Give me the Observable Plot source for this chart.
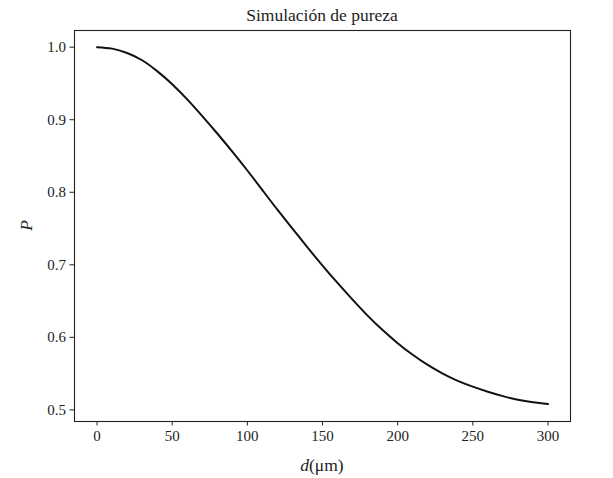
<!DOCTYPE html>
<html>
<head>
<meta charset="utf-8">
<script src="https://cdn.jsdelivr.net/npm/d3@7"></script>
<script src="https://cdn.jsdelivr.net/npm/@observablehq/plot@0.6"></script>
<style>
  html, body { margin: 0; padding: 0; background: #fff; }
  #chart svg { display: block; }
</style>
</head>
<body>
<div id="chart"></div>
<script>
// Distance d (µm) and purity P
const distance = [0, 10, 20, 30, 40, 50, 60, 70, 80, 90, 100, 110, 120, 130, 140, 150,
                  160, 170, 180, 190, 200, 210, 220, 230, 240, 250, 260, 270, 280, 290, 300];
const purity = [1.000, 0.998, 0.992, 0.982, 0.967, 0.949, 0.928, 0.905, 0.881, 0.856, 0.830,
                0.803, 0.776, 0.750, 0.724, 0.699, 0.675, 0.652, 0.630, 0.610, 0.592,
                0.576, 0.562, 0.550, 0.540, 0.532, 0.525, 0.519, 0.514, 0.5105, 0.508];
const xTicks = [0, 50, 100, 150, 200, 250, 300];
const yTicks = [0.5, 0.6, 0.7, 0.8, 0.9, 1.0];
const titleText = "Simulación de pureza";
const yLabel = "P";
const xLabelVar = "d";
const xLabelUnit = "(μm)";

const data = distance.map((d, i) => ({d, p: purity[i]}));

const W = 613, H = 478;
const font = "'Liberation Serif', 'DejaVu Serif', serif";

const plot = Plot.plot({
  width: W,
  height: H,
  marginLeft: 74,
  marginRight: 43,
  marginTop: 30,
  marginBottom: 57,
  style: {fontFamily: font, fontSize: "15px", color: "#222", background: "#fff"},
  x: {domain: [-15, 315], ticks: xTicks, tickFormat: d3.format("d"), label: null, tickSize: 4.5, tickPadding: 4},
  y: {domain: [0.484, 1.023], ticks: yTicks, tickFormat: d3.format(".1f"), label: null, tickSize: 4.5, tickPadding: 4},
  marks: [
    Plot.line(data, {x: "d", y: "p", stroke: "#111", strokeWidth: 2, curve: "natural"}),
    Plot.frame({stroke: "#222", strokeWidth: 1.1})
  ]
});

document.getElementById("chart").appendChild(plot);

const svg = d3.select(plot);
const cx = (74 + (W - 43)) / 2;

svg.append("text")
  .attr("x", cx).attr("y", 21)
  .attr("text-anchor", "middle")
  .attr("font-family", font).attr("font-size", 17.5).attr("fill", "#222")
  .text(titleText);

const xl = svg.append("text")
  .attr("x", cx).attr("y", 471)
  .attr("text-anchor", "middle")
  .attr("font-family", font).attr("font-size", 17.5).attr("fill", "#222");
xl.append("tspan").attr("font-style", "italic").text(xLabelVar);
xl.append("tspan").text(xLabelUnit);

svg.append("text")
  .attr("transform", `translate(32, ${(30 + H - 57) / 2}) rotate(-90)`)
  .attr("text-anchor", "middle")
  .attr("font-family", font).attr("font-size", 17.5).attr("font-style", "italic").attr("fill", "#222")
  .text(yLabel);
</script>
</body>
</html>
